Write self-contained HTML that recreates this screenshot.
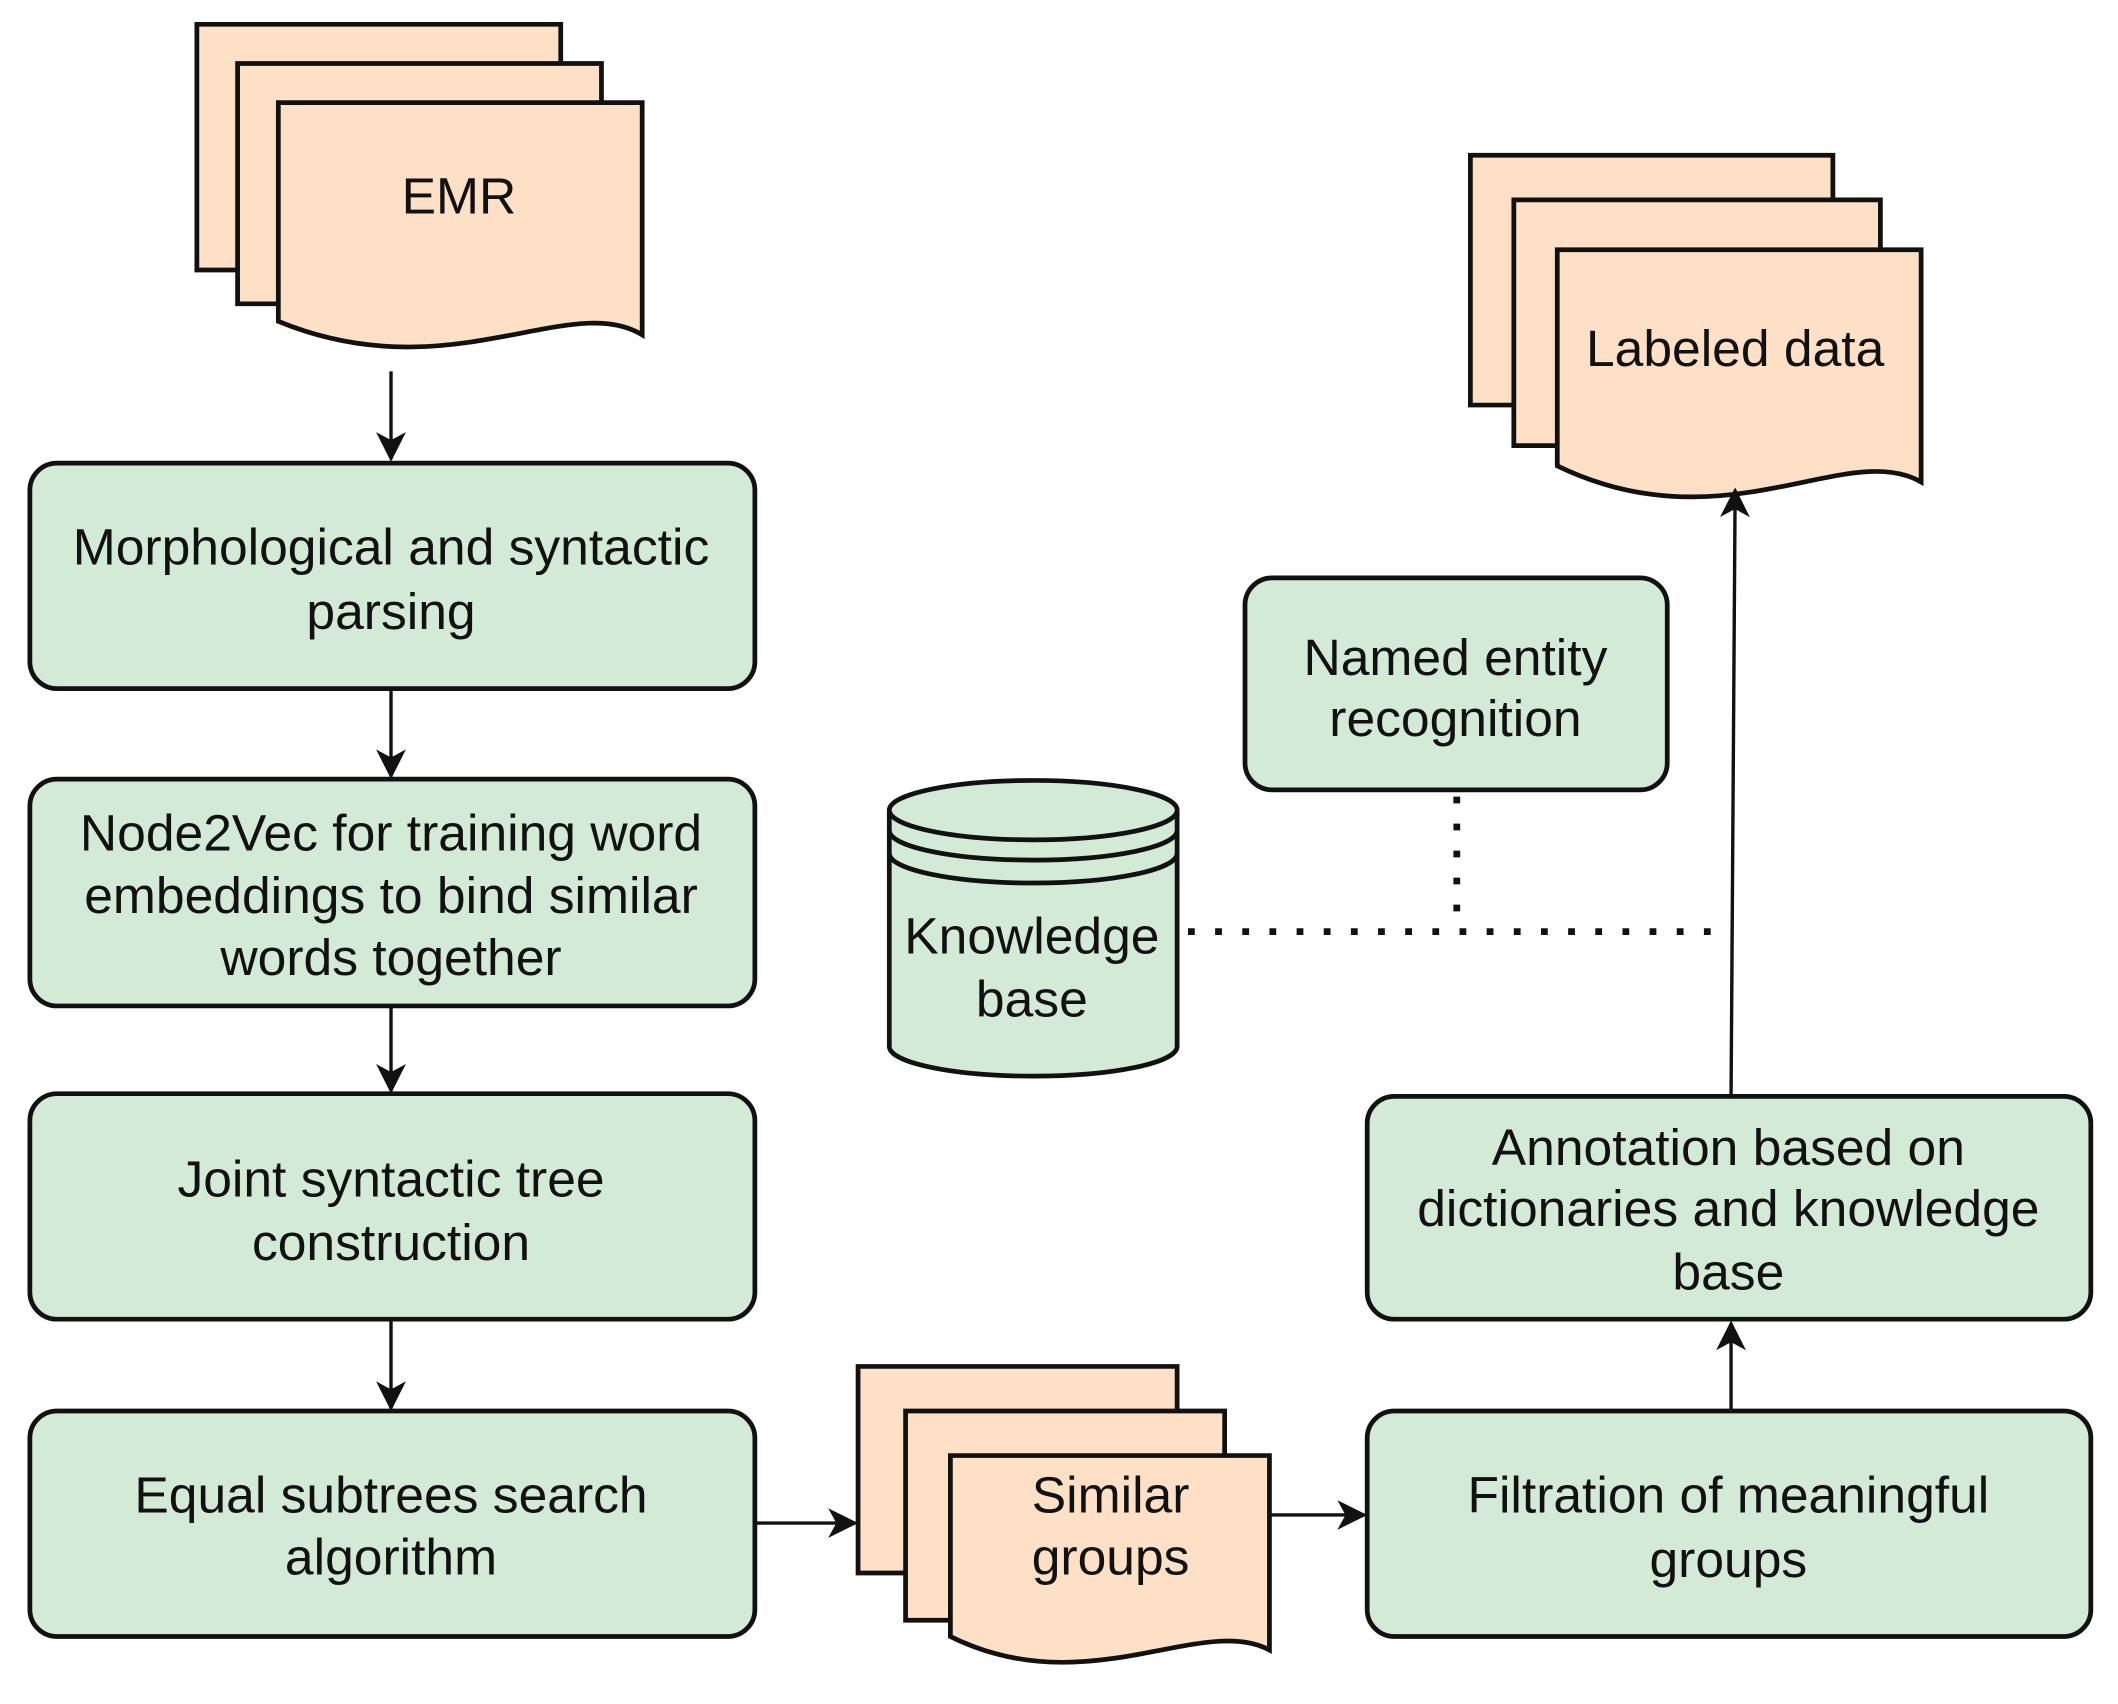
<!DOCTYPE html>
<html><head><meta charset="utf-8"><style>
html,body{margin:0;padding:0;background:#fff;}
svg{display:block;}
text{font-family:"Liberation Sans",sans-serif;font-size:38px;fill:#111;text-anchor:middle;}
</style></head><body>
<svg width="2118" height="1704" viewBox="0 0 1560 1262" preserveAspectRatio="none" xmlns="http://www.w3.org/2000/svg">
<defs>
<marker id="ab" markerWidth="22" markerHeight="22" refX="20" refY="11" orient="auto" markerUnits="userSpaceOnUse">
<path d="M0,0 L22,11 L0,22 L6,11 Z" fill="#111"/>
</marker>
</defs>
<g stroke="#111" stroke-width="3.5" fill="#fde0c6">
<path d="M145,18 H413 V200 H145 Z"/>
<path d="M175,47 H443 V225 H175 Z"/>
<path d="M205,76 H473 V248 C420,215 330,290 205,238 Z"/>
<path d="M1083,115 H1350 V300 H1083 Z"/>
<path d="M1115,148 H1385 V330 H1115 Z"/>
<path d="M1147,185 H1415 V357 C1360,325 1270,405 1147,345 Z"/>
<path d="M632,1012 H867 V1165 H632 Z"/>
<path d="M667,1045 H902 V1200 H667 Z"/>
<path d="M700,1078 H935 V1222 C885,1195 800,1262 700,1212 Z"/>
</g>
<g stroke="#111" stroke-width="3.5" fill="#d3ead6">
<rect x="22" y="343" width="534" height="167" rx="20"/>
<rect x="22" y="577" width="534" height="168" rx="20"/>
<rect x="22" y="810" width="534" height="167" rx="20"/>
<rect x="22" y="1045" width="534" height="167" rx="20"/>
<rect x="1007" y="1045" width="533" height="167" rx="20"/>
<rect x="1007" y="812" width="533" height="165" rx="20"/>
<rect x="917" y="428" width="311" height="157" rx="20"/>
<path d="M655,600 V775 A106,22 0 0 0 867,775 V600"/>
<ellipse cx="761" cy="600" rx="106" ry="22"/>
<path d="M655,615 A106,22 0 0 0 867,615" fill="none"/>
<path d="M655,632 A106,22 0 0 0 867,632" fill="none"/>
</g>
<g stroke="#111" stroke-width="2.5" fill="none">
<line x1="288" y1="275" x2="288" y2="340" marker-end="url(#ab)"/>
<line x1="288" y1="510" x2="288" y2="575" marker-end="url(#ab)"/>
<line x1="288" y1="745" x2="288" y2="808" marker-end="url(#ab)"/>
<line x1="288" y1="977" x2="288" y2="1043" marker-end="url(#ab)"/>
<line x1="556" y1="1128" x2="630" y2="1128" marker-end="url(#ab)"/>
<line x1="935" y1="1122" x2="1005" y2="1122" marker-end="url(#ab)"/>
<line x1="1275" y1="1045" x2="1275" y2="980" marker-end="url(#ab)"/>
<line x1="1275" y1="812" x2="1278" y2="363" marker-end="url(#ab)"/>
</g>
<g stroke="#111" stroke-width="5" stroke-dasharray="5,15" fill="none">
<line x1="1073" y1="590" x2="1073" y2="690"/>
<line x1="875" y1="690" x2="1275" y2="690"/>
</g>
<text x="338" y="158">EMR</text>
<text x="1278" y="271">Labeled data</text>
<text x="288" y="418">Morphological and syntactic</text>
<text x="288" y="466">parsing</text>
<text x="288" y="630">Node2Vec for training word</text>
<text x="288" y="676">embeddings to bind similar</text>
<text x="288" y="722">words together</text>
<text x="288" y="886">Joint syntactic tree</text>
<text x="288" y="933">construction</text>
<text x="288" y="1120">Equal subtrees search</text>
<text x="288" y="1166">algorithm</text>
<text x="818" y="1120">Similar</text>
<text x="818" y="1166">groups</text>
<text x="1273" y="1120">Filtration of meaningful</text>
<text x="1273" y="1168">groups</text>
<text x="1273" y="863">Annotation based on</text>
<text x="1273" y="908">dictionaries and knowledge</text>
<text x="1273" y="955">base</text>
<text x="1072" y="500">Named entity</text>
<text x="1072" y="545">recognition</text>
<text x="760" y="706">Knowledge</text>
<text x="760" y="753">base</text>
</svg>
</body></html>
